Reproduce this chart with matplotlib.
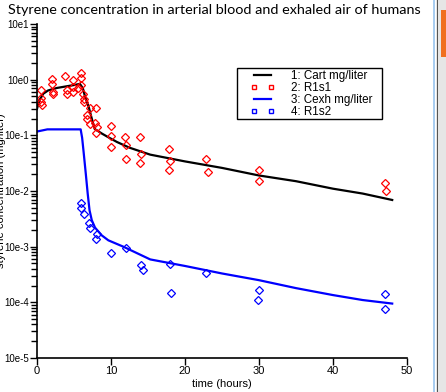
import math
import matplotlib
matplotlib.use("Agg")
import matplotlib.pyplot as plt
from matplotlib.lines import Line2D
from matplotlib.patches import Rectangle
from matplotlib.ticker import LogLocator, FixedLocator, FuncFormatter, NullFormatter

# ---- data ----
cart_t = [0, 0.3, 0.85, 1.5, 2.7, 4.0, 5.0, 5.8, 6.2, 6.5, 7.0, 7.4, 7.8, 8.8, 9.6,
          10.8, 12.5, 15.3, 20, 25, 30, 35, 40, 44, 48]
cart_v = [0.30, 0.42, 0.56, 0.64, 0.71, 0.76, 0.80, 0.84, 0.70, 0.49, 0.32, 0.20, 0.13,
          0.107, 0.093, 0.076, 0.060, 0.045, 0.034, 0.026, 0.019, 0.015, 0.011, 0.009, 0.0069]

cexh_t = [0, 1.4, 5.9, 6.1, 6.3, 6.6, 6.85, 7.1, 7.4, 7.84, 8.74, 9.64, 11.66, 15.3,
          20, 25, 30, 35, 40, 44, 48]
cexh_v = [0.117, 0.128, 0.128, 0.09, 0.05, 0.02, 0.009, 0.0045, 0.003, 0.0022, 0.0016,
          0.0013, 0.001, 0.00059, 0.00045, 0.00033, 0.00025, 0.00018, 0.000135, 0.00011, 0.000095]

r1s1_t = [0.5, 0.6, 0.6, 0.7, 2.0, 2.0, 2.1, 2.1, 3.8, 4.0, 4.1, 4.8, 4.9, 4.9, 5.5,
          5.9, 6.0, 6.0, 6.2, 6.3, 6.3, 6.7, 6.8, 7.1, 7.1, 8.0, 7.8, 8.1, 8.0,
          10.0, 10.0, 10.0, 11.9, 12.0, 12.0, 13.9, 14.0, 13.9,
          17.8, 18.0, 17.8, 22.9, 23.1, 30.0, 30.0, 47.0, 47.2]
r1s1_v = [0.64, 0.47, 0.40, 0.35, 1.04, 0.82, 0.60, 0.55, 1.15, 0.64, 0.56, 1.0, 0.75, 0.60, 0.70,
          1.3, 1.07, 0.80, 0.55, 0.45, 0.40, 0.23, 0.20, 0.31, 0.16, 0.31, 0.17, 0.14, 0.11,
          0.145, 0.096, 0.063, 0.092, 0.066, 0.037, 0.092, 0.047, 0.032,
          0.057, 0.034, 0.024, 0.038, 0.022, 0.024, 0.015, 0.014, 0.010]

r1s2_t = [5.9, 5.9, 6.3, 7.0, 7.1, 8.1, 8.0, 10.0, 12.0, 14.1, 14.3,
          18.0, 18.1, 22.9, 30.0, 29.9, 47.0, 47.0]
r1s2_v = [0.0062, 0.0049, 0.0039, 0.0027, 0.0022, 0.0017, 0.0014, 0.00078, 0.00093, 0.00046, 0.00038,
          0.00049, 0.00015, 0.00034, 0.00017, 0.00011, 0.000144, 0.000076]

labels = ["1: Cart mg/liter", "2: R1s1", "3: Cexh mg/liter", "4: R1s2"]
title = "Styrene concentration in arterial blood and exhaled air of humans"
xlabel = "time (hours)"
ylabel = "styrene concentration (mg/liter)"

W, H = 446, 392
fig = plt.figure(figsize=(W / 100, H / 100), dpi=100)
fig.patch.set_facecolor("white")

ax = fig.add_axes([37 / W, (H - 358) / H, (407 - 37) / W, (358 - 24) / H])
ax.set_yscale("log")
ax.set_xlim(0, 50)
ax.set_ylim(1e-5, 1e1)

ax.plot(cart_t, cart_v, color="black", lw=1.6)
ax.plot(r1s1_t, r1s1_v, ls="none", marker="D", ms=4.4, mfc="none", mec="red", mew=0.9)
ax.plot(cexh_t, cexh_v, color="#0000ff", lw=1.6)
ax.plot(r1s2_t, r1s2_v, ls="none", marker="D", ms=4.4, mfc="none", mec="#0000ff", mew=0.9)

for s in ["top", "right"]:
    ax.spines[s].set_visible(False)
ax.spines["left"].set_linewidth(1.2)
ax.spines["bottom"].set_linewidth(1.2)

ax.xaxis.set_major_locator(FixedLocator([0, 10, 20, 30, 40, 50]))
ax.yaxis.set_major_locator(LogLocator(base=10, numticks=10))
ax.yaxis.set_minor_locator(LogLocator(base=10, subs=range(2, 10), numticks=20))
ax.yaxis.set_minor_formatter(NullFormatter())
ax.yaxis.set_major_formatter(FuncFormatter(lambda v, p: "10e%d" % round(math.log10(v))))

ax.tick_params(axis="both", direction="out", length=5, width=1, pad=1)
ax.tick_params(axis="y", which="minor", direction="out", length=4, width=1)
for lab in ax.get_xticklabels():
    lab.set_fontfamily("Liberation Sans")
    lab.set_fontsize(8)
for lab in ax.get_yticklabels():
    lab.set_fontfamily("Liberation Sans")
    lab.set_fontsize(7)

ax.set_xlabel(xlabel, fontsize=8, family="Liberation Sans", labelpad=2)
fig.text(1 / W, 1 - 191 / H, ylabel, rotation=90, ha="center", va="center",
         fontsize=8, family="Liberation Sans")
fig.text(8 / W, 1 - 10 / H, title, ha="left", va="center", fontsize=10.4, family="Lato")

handles = [
    Line2D([], [], color="black", lw=1.6),
    Line2D([], [], ls="none", marker="s", ms=3.5, mfc="none", mec="red", mew=1),
    Line2D([], [], color="#0000ff", lw=1.6),
    Line2D([], [], ls="none", marker="s", ms=3.5, mfc="none", mec="#0000ff", mew=1),
]
leg = fig.legend(handles, labels, loc="upper left",
                 bbox_to_anchor=(251 / W, 1 - 70 / H), frameon=False,
                 numpoints=2, handlelength=2.0, handletextpad=1.45,
                 borderpad=0, labelspacing=0.0, borderaxespad=0,
                 prop=dict(family="Liberation Sans", size=8.4))
# legend frame box
fig.add_artist(Rectangle((237 / W, 1 - 119 / H), 145 / W, 51 / H, transform=fig.transFigure,
                         fill=False, edgecolor="black", lw=1))

# window frame decorations at the right edge
fig.add_artist(Rectangle((433 / W, 0), 2 / W, 1, transform=fig.transFigure,
                         color="#a9cdf0", lw=0))
fig.add_artist(Rectangle((436 / W, 0), 10 / W, 1, transform=fig.transFigure,
                         color="#e6e6e6", lw=0))
fig.add_artist(Rectangle((437 / W, 0), 1 / W, 1, transform=fig.transFigure,
                         color="#555555", lw=0))
fig.add_artist(Rectangle((441 / W, 1 - 57 / H), 5 / W, 47 / H, transform=fig.transFigure,
                         color="#f07020", lw=0))

fig.savefig("out.png", dpi=100)
